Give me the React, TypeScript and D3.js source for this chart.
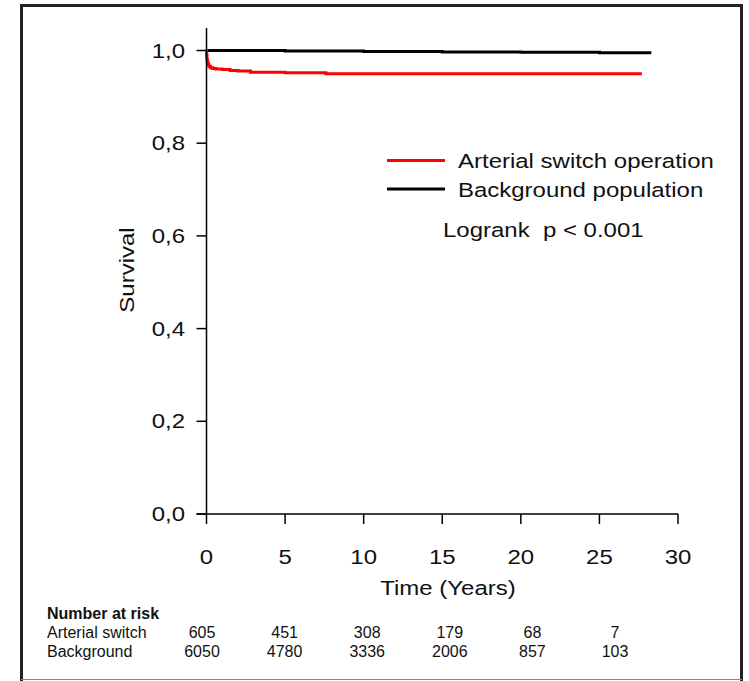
import React from "react";
import * as d3 from "d3";

const asoTimes = [0, 0.01, 0.03, 0.06, 0.1, 0.15, 0.25, 0.4, 0.6, 1.0, 1.5, 2.0, 2.8, 5.0, 7.6, 27.7];
const asoSurv = [1, 0.99, 0.98, 0.974, 0.97, 0.966, 0.963, 0.961, 0.96, 0.959, 0.957, 0.956, 0.953, 0.952, 0.95, 0.95];
const bgTimes = [0, 5, 10, 15, 20, 25, 28.3];
const bgSurv = [1, 0.999, 0.998, 0.997, 0.996, 0.995, 0.995];
const xTicks = [0, 5, 10, 15, 20, 25, 30];
const yTicks = [0, 0.2, 0.4, 0.6, 0.8, 1.0];
const riskTimes = [0, 5, 10, 15, 20, 25];
const riskASO = [605, 451, 308, 179, 68, 7];
const riskBG = [6050, 4780, 3336, 2006, 857, 103];
const legendLabels = ["Arterial switch operation", "Background population"];
const legendColors = ["#ff0000", "#000000"];

const W = 749, H = 681;
const FONT = "'Liberation Sans', Arial, sans-serif";

function ST({ x, y, anchor = "start", size = 20.5, rotate = 0, children, weight = "normal", sx = 1.17 }: any) {
  return (
    <text
      transform={`translate(${x},${y}) rotate(${rotate}) scale(${sx},1)`}
      textAnchor={anchor}
      fontSize={size}
      fontFamily={FONT}
      fontWeight={weight}
      fill="#111"
      style={{ whiteSpace: "pre" }}
    >
      {children}
    </text>
  );
}

export default function App() {
  const x = d3.scaleLinear().domain([0, 30]).range([206.5, 678]);
  const y = d3.scaleLinear().domain([0, 1]).range([514, 50.5]);
  const xr = d3.scaleLinear().domain([0, 25]).range([202, 615]);
  const line = d3.line<[number, number]>().x(d => x(d[0])).y(d => y(d[1])).curve(d3.curveStepAfter);
  const aso: [number, number][] = asoTimes.map((t, i) => [t, asoSurv[i]]);
  const bg: [number, number][] = bgTimes.map((t, i) => [t, bgSurv[i]]);
  const fmt = (v: number) => v.toFixed(1).replace(".", ",");

  return (
    <svg width={W} height={H} style={{ position: "absolute", left: 0, top: 0, background: "#fff" }}>
      <rect x={0} y={0} width={W} height={H} fill="#fff" />
      {/* frame */}
      <path d={`M21.5,681 V5.5 H741.5 V681`} fill="none" stroke="#222" strokeWidth={3} />
      <line x1={21} x2={742} y1={679.5} y2={679.5} stroke="#888" strokeWidth={1} />

      {/* curves */}
      <path d={line(bg) || ""} fill="none" stroke="#000" strokeWidth={3} />
      <path d={line(aso) || ""} fill="none" stroke="#ff0000" strokeWidth={3} />

      {/* y axis */}
      <line x1={x(0)} x2={x(0)} y1={28} y2={y(0)} stroke="#000" strokeWidth={1.5} />
      {yTicks.map(t => (
        <g key={"y" + t}>
          <line x1={x(0) - 10} x2={x(0)} y1={y(t)} y2={y(t)} stroke="#000" strokeWidth={1.5} />
          <ST x={185} y={y(t) + 7} anchor="end">{fmt(t)}</ST>
        </g>
      ))}
      {/* x axis */}
      <line x1={x(0) - 10} x2={x(30)} y1={y(0)} y2={y(0)} stroke="#000" strokeWidth={1.5} />
      {xTicks.map(t => (
        <g key={"x" + t}>
          <line x1={x(t)} x2={x(t)} y1={y(0)} y2={y(0) + 10} stroke="#000" strokeWidth={1.5} />
          <ST x={x(t)} y={564} anchor="middle">{t}</ST>
        </g>
      ))}
      <ST x={448} y={595} anchor="middle">Time (Years)</ST>
      <ST x={134} y={270} anchor="middle" rotate={-90}>Survival</ST>

      {/* legend */}
      {legendLabels.map((l, i) => (
        <g key={l}>
          <line x1={387} x2={445} y1={160.5 + i * 28.5} y2={160.5 + i * 28.5} stroke={legendColors[i]} strokeWidth={3} />
          <ST x={458} y={168 + i * 28.5}>{l}</ST>
        </g>
      ))}
      <ST x={443} y={237}>{"Logrank  p < 0.001"}</ST>

      {/* risk table */}
      <ST x={47} y={619} size={16} weight="bold" sx={1}>Number at risk</ST>
      <ST x={47} y={638} size={16} sx={1}>Arterial switch</ST>
      <ST x={47} y={657} size={16} sx={1}>Background</ST>
      {riskTimes.map((t, i) => (
        <g key={"r" + t}>
          <ST x={xr(t)} y={638} size={16} anchor="middle" sx={1}>{riskASO[i]}</ST>
          <ST x={xr(t)} y={657} size={16} anchor="middle" sx={1}>{riskBG[i]}</ST>
        </g>
      ))}
    </svg>
  );
}
